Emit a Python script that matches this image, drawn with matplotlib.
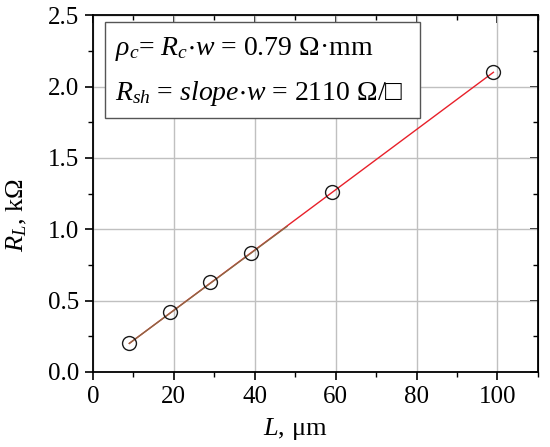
"""
 TLM plot: total resistance vs. gap length
"""
import matplotlib
matplotlib.use('Agg')
import matplotlib.pyplot as plt
from matplotlib.ticker import MultipleLocator
from matplotlib.patches import Rectangle

plt.rcParams['font.family'] = ['Liberation Serif', 'DejaVu Serif']
plt.rcParams['mathtext.fontset'] = 'custom'
plt.rcParams['mathtext.rm'] = 'Liberation Serif'
plt.rcParams['mathtext.it'] = 'Liberation Serif:italic'
plt.rcParams['mathtext.fallback'] = 'stix'

# measured points
L = [9, 19, 29, 39, 59, 99]          # gap length [um]
RL = [0.20, 0.42, 0.63, 0.83, 1.26, 2.10]  # resistance [kOhm]

# linear fit (red) and short fit over the first points (brown)
fit_x = [9, 99]
fit_y = [0.20, 2.10]
fit2_x = [9, 48]
fit2_y = [0.20, 1.02]

xticks = [0, 20, 40, 60, 80, 100]
yticks = [0.0, 0.5, 1.0, 1.5, 2.0, 2.5]

fig = plt.figure(figsize=(5.5, 4.47), dpi=100)
ax = fig.add_axes([0.169, 0.168, 0.809, 0.798])

ax.plot(fit_x, fit_y, color='#e8202a', lw=1.0, zorder=3)
ax.plot(fit2_x, fit2_y, color='#8c6a45', lw=1.0, zorder=4)
ax.plot(L, RL, 'o', mfc='none', mec='#1a1a1a', ms=10, mew=1.0, zorder=5)

ax.set_xlim(0, 110)
ax.set_ylim(0, 2.5)
ax.set_xticks(xticks)
ax.set_yticks(yticks)
ax.set_yticklabels(['%.1f' % v for v in yticks])
ax.xaxis.set_minor_locator(MultipleLocator(10))
ax.yaxis.set_minor_locator(MultipleLocator(0.25))
ax.grid(True, which='major', color='#c0c0c0', lw=1.0)
ax.set_axisbelow(True)

ax.tick_params(axis='both', which='major', labelsize=18, length=6, width=1.2,
               direction='out', pad=4)
ax.tick_params(axis='both', which='minor', length=3.5, width=1.0,
               direction='out')
for s in ax.spines.values():
    s.set_linewidth(1.3)

# mirrored ticks on top and right, pointing inward
axt = ax.secondary_xaxis('top')
axt.set_xticks(xticks)
axt.xaxis.set_minor_locator(MultipleLocator(10))
axt.tick_params(which='major', direction='in', length=6, width=1.2,
                labeltop=False)
axt.tick_params(which='minor', direction='in', length=3.5, width=1.0)
axr = ax.secondary_yaxis('right')
axr.set_yticks(yticks)
axr.yaxis.set_minor_locator(MultipleLocator(0.25))
axr.tick_params(which='major', direction='in', length=6, width=1.2,
                labelright=False)
axr.tick_params(which='minor', direction='in', length=3.5, width=1.0)

ax.set_xlabel(r'$L$, μm', fontsize=19, labelpad=2)
ax.xaxis.set_label_coords(0.454, -0.125)
ax.set_ylabel(r'$R_L$, kΩ', fontsize=19, labelpad=4)
ax.yaxis.set_label_coords(-0.143, 0.44)

# annotation box
ax.add_patch(Rectangle((0.027, 0.711), 0.708, 0.269, transform=ax.transAxes,
                       fc='white', ec='#555555', lw=1.0, zorder=6))
ax.text(0.049, 0.888, r'$\rho_c$= $R_c{\cdot}w$ = 0.79 Ω·mm',
        transform=ax.transAxes, fontsize=20, va='baseline', ha='left',
        zorder=7)
ax.text(0.049, 0.762, r'$R_{sh}$ = $slope{\cdot}w$ = 2110 Ω/□',
        transform=ax.transAxes, fontsize=20, va='baseline', ha='left',
        zorder=7)

fig.savefig('out.png', dpi=100)
